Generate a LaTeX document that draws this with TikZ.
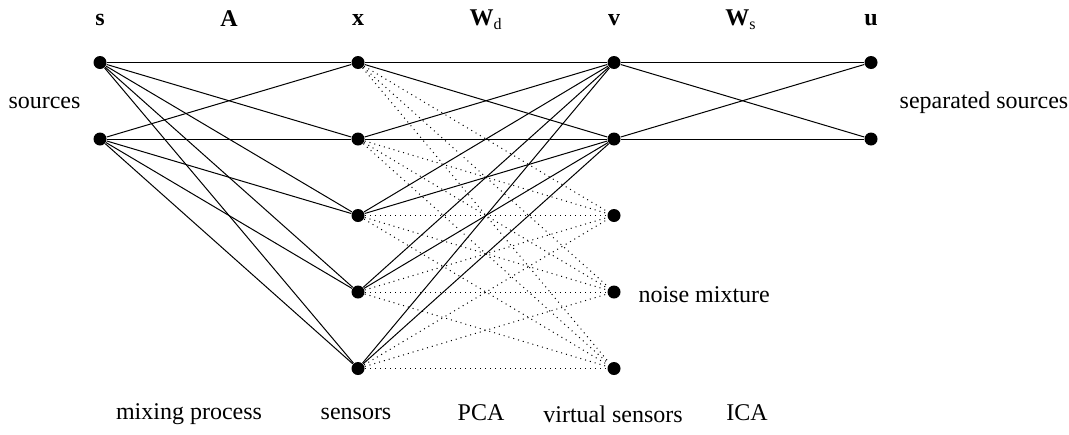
\documentclass[tikz,border=0pt]{standalone}
\usepackage{fontspec}
\setmainfont{Liberation Serif}

\begin{document}
\begin{tikzpicture}[x=0.5pt,y=-0.5pt,line width=0.5pt,
    dot/.style={circle,fill=black,inner sep=0pt,minimum size=6.5pt},
    lbl/.style={font=\fontsize{12}{14}\selectfont,inner sep=0pt}]
  \useasboundingbox (0,0) rectangle (1069,434);
  % layers of units
  \node[dot] (s1) at (100,62.5) {};
  \node[dot] (s2) at (100,139) {};
  \foreach \i/\y in {1/62.5,2/139,3/215.5,4/292,5/368.5} {
    \node[dot] (x\i) at (358,\y) {};
    \node[dot] (v\i) at (614,\y) {};
  }
  \node[dot] (u1) at (871,62.5) {};
  \node[dot] (u2) at (871,139) {};
  % mixing matrix A
  \foreach \i in {1,2} \foreach \j in {1,...,5} \draw (s\i) -- (x\j);
  % whitening W_d: signal part solid, noise part dotted
  \foreach \i in {1,...,5} {
    \foreach \j in {1,2} \draw (x\i) -- (v\j);
    \foreach \j in {3,4,5} \draw[dotted] (x\i) -- (v\j);
  }
  % separation W_s
  \foreach \i in {1,2} \foreach \j in {1,2} \draw (v\i) -- (u\j);
  % top labels
  \node[lbl] (lblS) at (100,20) {\textbf{s}};
  \node[lbl] (lblA) at (229,19) {\textbf{A}};
  \node[lbl] (lblX) at (358,20) {\textbf{x}};
  \node[lbl] (lblWd) at (486,20) {\textbf{W}\textsubscript{d}};
  \node[lbl] (lblV) at (614,20) {\textbf{v}};
  \node[lbl] (lblWs) at (741,20) {\textbf{W}\textsubscript{s}};
  \node[lbl] (lblU) at (871,20) {\textbf{u}};
  % side labels
  \node[lbl] (srcs) at (44.5,103) {sources};
  \node[lbl] (sepsrcs) at (984,103) {separated sources};
  \node[lbl,anchor=west] (noise) at (638,295) {noise mixture};
  % bottom labels
  \node[lbl] (mixing) at (189,414) {mixing process};
  \node[lbl] (sens) at (356,414) {sensors};
  \node[lbl] (pca) at (481,413) {PCA};
  \node[lbl] (vsens) at (613,414) {virtual sensors};
  \node[lbl] (ica) at (747,413) {ICA};
\end{tikzpicture}
\end{document}
